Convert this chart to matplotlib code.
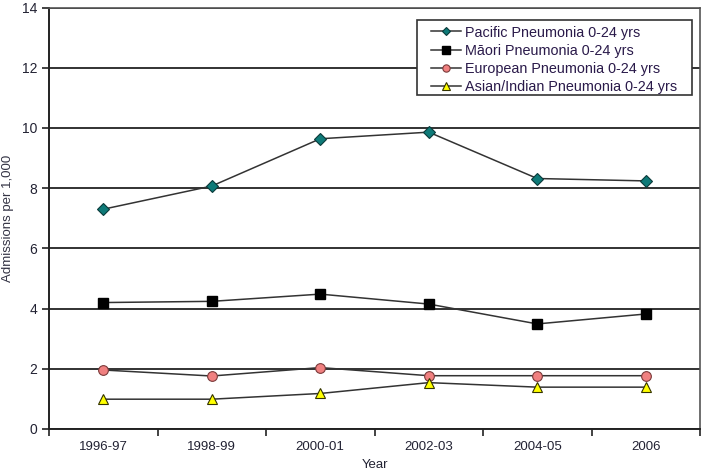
import matplotlib
matplotlib.use("Agg")
import matplotlib.pyplot as plt
from matplotlib.patches import Rectangle
import numpy as np

plt.rcParams['font.family'] = ['Liberation Sans', 'DejaVu Sans']

years = ["1996-97", "1998-99", "2000-01", "2002-03", "2004-05", "2006"]
pacific = [7.3, 8.07, 9.64, 9.86, 8.32, 8.24]
maori = [4.2, 4.24, 4.48, 4.15, 3.49, 3.82]
european = [1.96, 1.76, 2.04, 1.77, 1.77, 1.77]
asian = [0.99, 0.99, 1.18, 1.54, 1.39, 1.39]
yticks = [0, 2, 4, 6, 8, 10, 12, 14]

W, H = 704, 472
fig = plt.figure(figsize=(7.04, 4.72), dpi=100)
ax = fig.add_axes([49/W, 1-429/H, (700-49)/W, (429-7.5)/H])

x = np.arange(len(years))
txtc = '#222233'
lc = '#333333'
ax.plot(x, pacific, color=lc, lw=1.1, marker='D', ms=6, mfc='#0e7a78', mec='#0a3a3a', mew=0.8,
        label='Pacific Pneumonia 0-24 yrs', zorder=4)
ax.plot(x, maori, color=lc, lw=1.1, marker='s', ms=7, mfc='black', mec='black',
        label='Māori Pneumonia 0-24 yrs', zorder=4)
ax.plot(x, european, color=lc, lw=1.1, marker='o', ms=7, mfc='#f08080', mec='#7a3a3a', mew=0.8,
        label='European Pneumonia 0-24 yrs', zorder=4)
ax.plot(x, asian, color=lc, lw=1.1, marker='^', ms=7, mfc='#ffff00', mec='#333300', mew=0.8,
        label='Asian/Indian Pneumonia 0-24 yrs', zorder=4)

ax.set_xlim(-0.5, len(years) - 0.5)
ax.set_ylim(0, 14)
ax.set_yticks(yticks)
ax.set_yticklabels([str(v) for v in yticks], fontsize=10, color=txtc)
ax.set_xticks(x)
ax.set_xticklabels(years, fontsize=9.5, color=txtc)
ax.tick_params(axis='x', which='major', length=0, pad=9)
ax.set_xticks(np.arange(-0.5, len(years), 1.0), minor=True)
ax.tick_params(axis='x', which='minor', length=5, direction='out', width=1.2, color='#222222')
ax.tick_params(axis='y', length=5, direction='out', width=1.2, color='#222222')

ax.grid(axis='y', color='#222222', lw=1.3, zorder=1)
ax.set_axisbelow(True)
for s in ['top', 'right']:
    ax.spines[s].set_color('#555555')
    ax.spines[s].set_linewidth(1.2)
for s in ['left', 'bottom']:
    ax.spines[s].set_color('#222222')
    ax.spines[s].set_linewidth(1.4)

ax.set_xlabel('Year', fontsize=9.5, color=txtc, labelpad=4)
ax.set_ylabel('Admissions per 1,000', fontsize=9.5, color='#333344')
ax.yaxis.set_label_coords(-35/651, 0.5)

# legend box
box = Rectangle((417/W, 1-95/H), (692-417)/W, (95-20)/H, transform=fig.transFigure,
                facecolor='white', edgecolor='#333333', lw=1.2, zorder=4.5)
ax.add_artist(box)

leg = ax.legend(loc='upper left', bbox_to_anchor=((431-49)/651, (429-25.5)/421.5), fontsize=10.4,
                frameon=False, borderpad=0, labelspacing=0.3, handlelength=2.1,
                handletextpad=0.25, borderaxespad=0, markerscale=0.75)
leg.set_zorder(6)
for t in leg.get_texts():
    t.set_color('#2a1a4a')

fig.savefig('out.png', dpi=100)
